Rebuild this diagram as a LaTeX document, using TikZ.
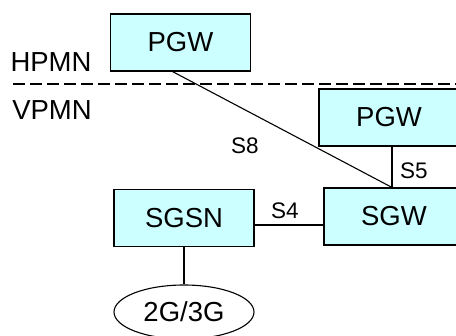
\documentclass[tikz,border=0pt]{standalone}
\usepackage{fontspec}
\setmainfont{Liberation Sans}
\usepackage{xcolor}
\usetikzlibrary{shapes.geometric}
\definecolor{boxcyan}{HTML}{CCFFFF}
\tikzset{
  netbox/.style={draw,fill=boxcyan,line width=1.1pt,minimum width=140pt,minimum height=57pt,inner sep=0pt,font=\fontsize{27.5}{30}\selectfont},
  radiocloud/.style={draw,ellipse,line width=1.1pt,minimum width=140pt,minimum height=54pt,inner sep=0pt,font=\fontsize{27.5}{30}\selectfont},
  ifname/.style={inner sep=0pt,font=\fontsize{22.5}{24}\selectfont},
  areaname/.style={inner sep=0pt,font=\fontsize{27.5}{30}\selectfont},
  link/.style={line width=1.1pt}
}
\begin{document}
\begin{tikzpicture}[x=1pt,y=-1pt]
  \useasboundingbox (0,0) rectangle (456,336);
  \clip (0,0) rectangle (456,336);
  % home and visited networks
  \node[areaname] (hpmn) at (51,62) {HPMN};
  \node[areaname] (vpmn) at (52,110) {VPMN};
  \draw[line width=1.1pt,dash pattern=on 12pt off 5pt] (13,84) -- (456,84);
  % nodes
  \node[netbox] (pgwh) at (180.5,42.5) {PGW};
  \node[netbox] (pgwv) at (389,117.5) {PGW};
  \node[netbox] (sgw) at (394,216.5) {SGW};
  \node[netbox] (sgsn) at (184,218) {SGSN};
  \node[radiocloud] (ran) at (184,312) {2G/3G};
  % interfaces
  \draw[link] ([xshift=-8pt]pgwh.south) -- ([xshift=-2pt]sgw.north);
  \draw[link] ([xshift=3pt]pgwv.south) -- ([xshift=-2pt]sgw.north);
  \draw[link] ([yshift=-7pt]sgsn.east) -- ([yshift=-8.5pt]sgw.west);
  \draw[link] (sgsn.south) -- (ran.north);
  \node[ifname] (sviii) at (245,146) {S8};
  \node[ifname] (sv) at (414,171) {S5};
  \node[ifname] (siv) at (285,211) {S4};
\end{tikzpicture}
\end{document}
